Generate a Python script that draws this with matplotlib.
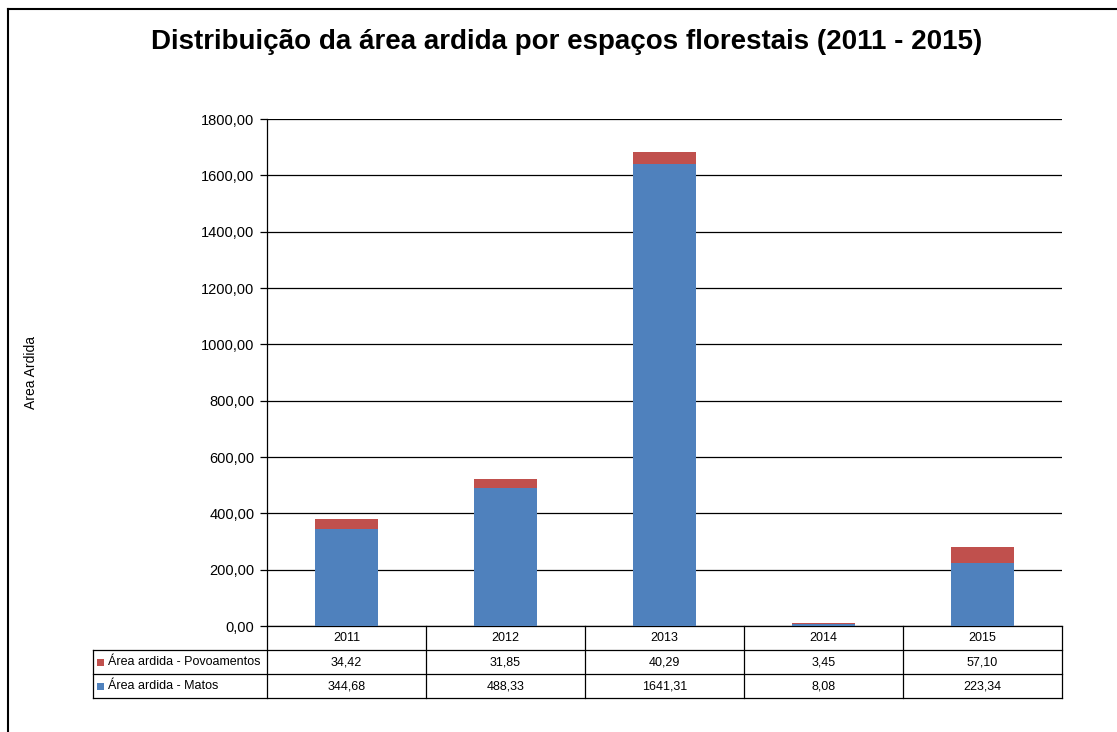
import matplotlib.pyplot as plt
from matplotlib.lines import Line2D
from matplotlib.patches import Rectangle

plt.rcParams['font.family'] = ['Liberation Sans', 'DejaVu Sans']

years = ['2011', '2012', '2013', '2014', '2015']
matos = [344.68, 488.33, 1641.31, 8.08, 223.34]
povoamentos = [34.42, 31.85, 40.29, 3.45, 57.10]
series_labels = ['Área ardida - Povoamentos', 'Área ardida - Matos']

BLUE = '#4F81BD'
RED = '#C0504D'


def fmt(v):
    return f'{v:.2f}'.replace('.', ',')


fig = plt.figure(figsize=(11.17, 7.32), dpi=100)
ax = fig.add_axes([0.2390, 0.1448, 0.7117, 0.6926])

x = list(range(len(years)))
ax.bar(x, matos, width=0.4, color=BLUE, zorder=3)
ax.bar(x, povoamentos, bottom=matos, width=0.4, color=RED, zorder=3)

ax.set_xlim(-0.5, len(years) - 0.5)
ax.set_ylim(0, 1800)
ax.set_yticks(range(0, 1801, 200))
ax.set_yticklabels([fmt(v) for v in range(0, 1801, 200)], fontsize=10.5)
ax.set_xticks([])
ax.yaxis.grid(True, color='black', linewidth=0.9, zorder=0)
ax.tick_params(axis='y', length=5, width=0.9, color='black', pad=4)
for side in ['top', 'right', 'bottom']:
    ax.spines[side].set_visible(False)
ax.spines['left'].set_linewidth(0.9)
ax.set_ylabel('Area Ardida', fontsize=10, labelpad=0)
ax.yaxis.set_label_coords(-0.288, 0.5)

fig.text(0.5076, 0.9426, 'Distribuição da área ardida por espaços florestais (2011 - 2015)',
         ha='center', va='center', fontsize=20, fontweight='bold')

# data table under the plot
n = len(years)
rh = 24 / 507
lab_left = -174 / 795
tr = ax.transAxes
lw = 0.9
cw = 1.0 / n

def hline(y, x0, x1):
    ax.add_line(Line2D([x0, x1], [y, y], transform=tr, color='black', lw=lw, clip_on=False))

def vline(xv, y0, y1):
    ax.add_line(Line2D([xv, xv], [y0, y1], transform=tr, color='black', lw=lw, clip_on=False))

hline(0, 0, 1)
hline(-rh, lab_left, 1)
hline(-2 * rh, lab_left, 1)
hline(-3 * rh, lab_left, 1)
for i in range(n + 1):
    vline(i * cw, 0, -3 * rh)
vline(lab_left, -rh, -3 * rh)

for i, yr in enumerate(years):
    xc = (i + 0.5) * cw
    ax.text(xc, -0.5 * rh, yr, transform=tr, ha='center', va='center', fontsize=9)
    ax.text(xc, -1.5 * rh, fmt(povoamentos[i]), transform=tr, ha='center', va='center', fontsize=9)
    ax.text(xc, -2.5 * rh, fmt(matos[i]), transform=tr, ha='center', va='center', fontsize=9)

sq_w = 7 / 795
sq_h = 7 / 507
for r, (lab, col) in enumerate(zip(series_labels, [RED, BLUE])):
    yc = -(1.5 + r) * rh
    ax.add_patch(Rectangle((-170 / 795, yc - sq_h / 2), sq_w, sq_h, transform=tr,
                           facecolor=col, edgecolor='none', clip_on=False))
    ax.text(-159 / 795, yc, lab, transform=tr, ha='left', va='center', fontsize=9)

# chart border (only top and left visible in the crop)
fig.add_artist(Line2D([0.0076, 1.0], [0.9877, 0.9877], transform=fig.transFigure, color='black', lw=1.5))
fig.add_artist(Line2D([0.0076, 0.0076], [0.0, 0.9877], transform=fig.transFigure, color='black', lw=1.5))

fig.savefig('out.png', dpi=100)
